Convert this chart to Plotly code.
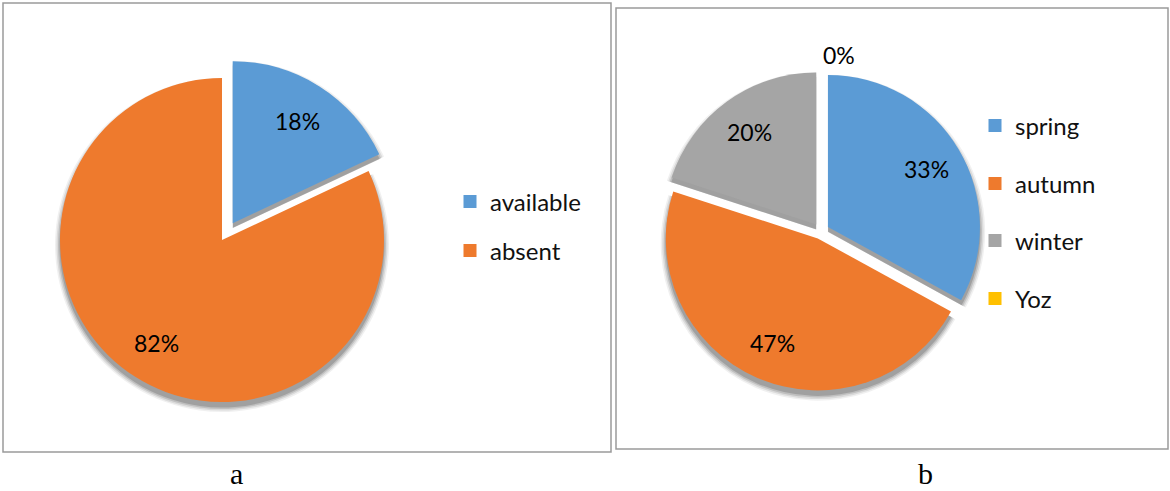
import math
import plotly.graph_objects as go

# Chart a: presence share
a_labels = ["available", "absent"]
a_values = [18, 82]

# Chart b: season share
b_labels = ["spring", "autumn", "winter", "Yoz"]
b_values = [33, 47, 20, 0]

panel_captions = ["a", "b"]

W, H = 1170, 491
BLUE, ORANGE, GRAY, GOLD = "#5B9BD5", "#EE7A2D", "#A5A5A5", "#FFC000"
a_colors = [BLUE, ORANGE]
b_colors = [BLUE, ORANGE, GRAY, GOLD]
FONT = "Lato"

# pie geometry in pixels: centre, radius, pull fraction
A_GEOM = dict(cx=222, cy=240, r=162, pull=[0.123, 0])
B_GEOM = dict(cx=821, cy=231, r=152, pull=[0.053] * 4)


def px_domain(cx, cy, r, pull):
    """Pie domain (paper units) so that plotly lays the pie out at cx, cy with radius r."""
    half = r * (1 + max(pull))
    return dict(x=[(cx - half) / W, (cx + half) / W],
                y=[1 - (cy + half) / H, 1 - (cy - half) / H])


def add_pie(fig, labels, values, colors, g):
    # soft drop shadow: a few translucent grey copies slightly larger and lower
    for grow, alpha in [(5.0, 0.06), (3.5, 0.09), (2.0, 0.12), (0.5, 0.16)]:
        fig.add_trace(go.Pie(
            labels=labels, values=values, sort=False, direction="clockwise",
            rotation=0, pull=g["pull"],
            marker=dict(colors=[f"rgba(0,0,0,{alpha})"] * len(values)),
            textinfo="none", hoverinfo="skip", showlegend=False,
            domain=px_domain(g["cx"], g["cy"] + 5, g["r"] + grow, g["pull"]),
        ))
    fig.add_trace(go.Pie(
        labels=labels, values=values, sort=False, direction="clockwise",
        rotation=0, pull=g["pull"], marker=dict(colors=colors),
        textinfo="none", hoverinfo="label+percent", showlegend=False,
        domain=px_domain(g["cx"], g["cy"], g["r"], g["pull"]),
    ))


def slice_labels(values, g, k=0.75, gap=16):
    """Percent labels placed along each slice's mid-angle."""
    total = sum(values)
    out = []
    cum = 0
    for v, p in zip(values, g["pull"]):
        theta = 2 * math.pi * (cum + v / 2) / total
        cum += v
        s, c = math.sin(theta), math.cos(theta)
        if abs(s) < 1e-9:
            s = 0.0
        ox = g["cx"] + p * g["r"] * s
        oy = g["cy"] - p * g["r"] * c
        text = f"{v / total:.0%}"
        if v > 0:
            x, y, xa = ox + k * g["r"] * s, oy - k * g["r"] * c, "center"
        else:
            rr = g["r"] + gap
            x, y = ox + rr * s, oy - rr * c
            xa = "left" if s >= 0 else "right"
        out.append(dict(text=text, x=x / W, y=1 - y / H, xref="paper", yref="paper",
                        xanchor=xa, yanchor="middle", showarrow=False,
                        font=dict(family=FONT, size=23, color="#000")))
    return out


fig = go.Figure()
add_pie(fig, a_labels, a_values, a_colors, A_GEOM)
add_pie(fig, b_labels, b_values, b_colors, B_GEOM)

# Legend entries, one legend per entry so each can be placed on its own row
legend_rows = [(a_labels[0], a_colors[0], 450, 202),
               (a_labels[1], a_colors[1], 450, 251),
               (b_labels[0], b_colors[0], 975, 126),
               (b_labels[1], b_colors[1], 975, 184),
               (b_labels[2], b_colors[2], 975, 241),
               (b_labels[3], b_colors[3], 975, 299)]

layout_legends = {}
for i, (name, color, lx, ly) in enumerate(legend_rows):
    lid = "legend" if i == 0 else f"legend{i + 1}"
    fig.add_trace(go.Scatter(
        x=[None], y=[None], mode="markers", name=name, legend=lid,
        marker=dict(symbol="square", size=13, color=color, line=dict(width=0)),
        showlegend=True, hoverinfo="skip",
    ))
    layout_legends[lid] = dict(
        x=lx / W, y=1 - ly / H, xanchor="left", yanchor="middle",
        xref="paper", yref="paper", bgcolor="rgba(0,0,0,0)", borderwidth=0,
        font=dict(family=FONT, size=24, color="#111"),
    )

shapes = [
    dict(type="rect", xref="paper", yref="paper",
         x0=3 / W, x1=611 / W, y0=1 - 452 / H, y1=1 - 3 / H,
         line=dict(color="#9a9a9a", width=1.5), layer="below"),
    dict(type="rect", xref="paper", yref="paper",
         x0=616 / W, x1=1168 / W, y0=1 - 449 / H, y1=1 - 8 / H,
         line=dict(color="#9a9a9a", width=1.5), layer="below"),
]

annotations = slice_labels(a_values, A_GEOM) + slice_labels(b_values, B_GEOM)
for cap, cx in zip(panel_captions, [236, 925]):
    annotations.append(dict(
        text=cap, x=cx / W, y=0, xref="paper", yref="paper",
        xanchor="center", yanchor="bottom", showarrow=False, borderpad=0,
        font=dict(family="Liberation Serif", size=30, color="#000")))

fig.update_layout(
    width=W, height=H, margin=dict(l=0, r=0, t=0, b=0),
    paper_bgcolor="white", plot_bgcolor="white",
    xaxis=dict(visible=False), yaxis=dict(visible=False),
    shapes=shapes, annotations=annotations,
    **layout_legends,
)

fig.write_html("out.html")
